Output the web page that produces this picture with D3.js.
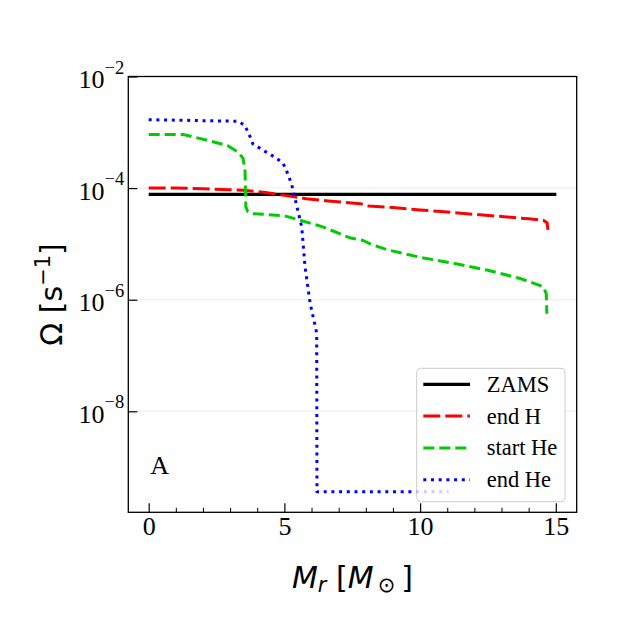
<!DOCTYPE html>
<html>
<head>
<meta charset="utf-8">
<script src="https://cdn.jsdelivr.net/npm/d3@7"></script>
<style>
  body { margin: 0; background: #fff; }
  svg { display: block; }
</style>
</head>
<body>
<div id="chart"></div>
<script>
// ---- data ----
// enclosed mass M_r (Msun) and angular velocity Omega (1/s)
const zamsMass = [0, 3, 6, 9, 12, 15.02];
const zamsOmega = [7.7e-5, 7.7e-5, 7.7e-5, 7.7e-5, 7.7e-5, 7.7e-5];

const endHMass = [0, 1, 2, 3, 3.5, 4.3, 5, 5.8, 6.6, 7.8, 8.1, 9, 10, 11, 12, 13, 14, 14.55, 14.68, 14.71];
const endHOmega = [1.0e-4, 1.0e-4, 9.77e-5, 9.33e-5, 9.12e-5, 8.32e-5, 7.41e-5, 6.46e-5, 5.89e-5, 5.25e-5,
  4.79e-5, 4.47e-5, 4.07e-5, 3.72e-5, 3.39e-5, 3.09e-5, 2.82e-5, 2.63e-5, 2.4e-5, 1.78e-5];

const startHeMass = [0, 1.3, 2.3, 2.9, 3.3, 3.48, 3.55, 3.58, 3.65, 3.78, 5.0, 6.3, 6.6, 7.4, 7.9, 8.16, 8.77,
  10.0, 11.23, 12.46, 13.69, 14.55, 14.65, 14.67];
const startHeOmega = [9.1e-4, 9.1e-4, 6.9e-4, 5.8e-4, 4.4e-4, 3.4e-4, 2.0e-4, 4.6e-5, 3.8e-5, 3.5e-5, 3.2e-5,
  2.1e-5, 1.86e-5, 1.29e-5, 1.15e-5, 1.0e-5, 7.9e-6, 5.75e-6, 4.5e-6, 3.4e-6, 2.4e-6, 1.7e-6, 1.26e-6, 5.6e-7];

const endHeMass = [0, 3.29, 3.54, 3.72, 3.84, 4.27, 4.64, 4.95, 5.07, 5.26, 5.38, 5.64, 5.76, 5.95, 6.13, 6.19,
  6.2, 6.25, 11.05];
const endHeOmega = [1.68e-3, 1.58e-3, 1.33e-3, 8.7e-4, 6.2e-4, 4.6e-4, 3.6e-4, 2.8e-4, 2.1e-4, 1.2e-4, 6.9e-5,
  2.0e-5, 3.9e-6, 8.5e-7, 3.5e-7, 2.5e-7, 3.6e-10, 3.6e-10, 3.6e-10];

const seriesNames = ["ZAMS", "end H", "start He", "end He"];
const seriesColors = ["#000000", "#ff0000", "#00cc00", "#0000ff"];
const seriesDash = [null, "17,5", "11,5", "3,4.7"];

const xTicks = [0, 5, 10, 15];
const xMinorTicks = [1, 2, 3, 4, 6, 7, 8, 9, 11, 12, 13, 14];
const yTicks = [1e-8, 1e-6, 1e-4, 1e-2];
const yTickExp = ["\u22128", "\u22126", "\u22124", "\u22122"];

// ---- layout ----
let width = 640, height = 640;
let margin = { left: 128.3, right: 640 - 576.7, top: 76.5, bottom: 640 - 512.3 };
let plotW = width - margin.left - margin.right;
let plotH = height - margin.top - margin.bottom;

let svg = d3.select("#chart").append("svg")
  .attr("width", width)
  .attr("height", height);

svg.append("rect").attr("width", width).attr("height", height).attr("fill", "#fff");

let g = svg.append("g")
  .attr("transform", "translate(" + margin.left + "," + margin.top + ")");

let x = d3.scaleLinear().domain([-0.751, 15.77]).range([0, plotW]);
let y = d3.scaleLog().domain([Math.pow(10, -9.81), 1e-2]).range([plotH, 0]);

g.append("clipPath").attr("id", "plotclip")
  .append("rect").attr("width", plotW).attr("height", plotH);

// faint horizontal grid at the major decades
g.selectAll("line.grid")
  .data(yTicks)
  .enter().append("line")
  .attr("class", "grid")
  .attr("x1", 0).attr("x2", plotW)
  .attr("y1", d => y(d)).attr("y2", d => y(d))
  .attr("stroke", "#f2f2f2")
  .attr("stroke-width", 1.5);

// ---- curves ----
let line = d3.line()
  .x(d => x(d[0]))
  .y(d => y(d[1]));

let curves = [
  d3.zip(zamsMass, zamsOmega),
  d3.zip(endHMass, endHOmega),
  d3.zip(startHeMass, startHeOmega),
  d3.zip(endHeMass, endHeOmega)
];

let curveG = g.append("g").attr("clip-path", "url(#plotclip)");
curves.forEach(function (pts, i) {
  curveG.append("path")
    .datum(pts)
    .attr("d", line)
    .attr("fill", "none")
    .attr("stroke", seriesColors[i])
    .attr("stroke-width", i === 0 ? 3.3 : 3)
    .attr("stroke-dasharray", seriesDash[i])
    .attr("stroke-linejoin", "round");
});

// ---- axes ----
let tickFont = "'Liberation Serif', 'Times New Roman', serif";

let xAxis = g.append("g")
  .attr("transform", "translate(0," + plotH + ")")
  .call(d3.axisBottom(x).tickValues(xTicks).tickSize(-9).tickPadding(4).tickFormat(d3.format("d")));
xAxis.select(".domain").remove();
xAxis.selectAll("text").attr("font-family", tickFont).attr("font-size", 26).attr("fill", "#000");
xAxis.selectAll("line").attr("stroke-width", 1.2);

g.append("g")
  .attr("transform", "translate(0," + plotH + ")")
  .call(d3.axisBottom(x).tickValues(xMinorTicks).tickSize(-4.5).tickFormat(""))
  .call(a => a.select(".domain").remove())
  .selectAll("line").attr("stroke-width", 1);

let yAxis = g.append("g")
  .call(d3.axisLeft(y).tickValues(yTicks).tickSize(-9).tickFormat(""));
yAxis.select(".domain").remove();
yAxis.selectAll("line").attr("stroke-width", 1.2);

// y tick labels as 10 with a superscript exponent
let yLab = g.selectAll("text.ylab")
  .data(yTicks)
  .enter().append("text")
  .attr("class", "ylab")
  .attr("text-anchor", "end")
  .attr("font-family", tickFont)
  .attr("x", -4)
  .attr("y", d => y(d) + 11.5);
yLab.append("tspan").attr("font-size", 26).text("10");
yLab.append("tspan").attr("font-size", 18.5).attr("dy", -14.5).text((d, i) => yTickExp[i]);

// frame
g.append("rect")
  .attr("width", plotW).attr("height", plotH)
  .attr("fill", "none").attr("stroke", "#000").attr("stroke-width", 1.3);

// panel letter
g.append("text")
  .attr("x", x(0.06)).attr("y", 473.5 - margin.top)
  .attr("font-family", tickFont).attr("font-size", 26)
  .text("A");

// ---- legend ----
let legend = svg.append("g").attr("transform", "translate(416.7,368.3)");
legend.append("rect")
  .attr("width", 148.3).attr("height", 133.4)
  .attr("rx", 4)
  .attr("fill", "#fff").attr("fill-opacity", 0.8)
  .attr("stroke", "#cccccc").attr("stroke-width", 1);

let entry = legend.selectAll("g.entry")
  .data(seriesNames)
  .enter().append("g")
  .attr("class", "entry")
  .attr("transform", (d, i) => "translate(0," + (16 + i * 31.8) + ")");
entry.append("line")
  .attr("x1", 6.6).attr("x2", 53.3)
  .attr("stroke", (d, i) => seriesColors[i])
  .attr("stroke-width", (d, i) => i === 0 ? 3.3 : 3)
  .attr("stroke-dasharray", (d, i) => seriesDash[i]);
entry.append("text")
  .attr("x", 70)
  .attr("y", 7.5)
  .attr("font-family", tickFont).attr("font-size", 22.5)
  .text(d => d);

// ---- axis labels (mathtext look) ----
let mathFont = "'DejaVu Sans', sans-serif";

let xl = svg.append("text")
  .attr("x", margin.left + plotW / 2).attr("y", 588)
  .attr("text-anchor", "middle")
  .attr("font-family", mathFont).attr("font-size", 30);
xl.append("tspan").attr("font-style", "italic").text("M");
xl.append("tspan").attr("font-style", "italic").attr("font-size", 21).attr("dy", 4).text("r");
xl.append("tspan").attr("dy", -4).text("\u00a0[");
xl.append("tspan").attr("font-style", "italic").text("M");
xl.append("tspan").attr("font-size", 21).attr("dy", 4).text("\u2009\u2299");
xl.append("tspan").attr("dy", -4).text("\u2009]");

let yl = svg.append("text")
  .attr("transform", "translate(62," + (margin.top + plotH / 2) + ") rotate(-90)")
  .attr("text-anchor", "middle")
  .attr("font-family", mathFont).attr("font-size", 30);
yl.append("tspan").text("\u03a9 [s");
yl.append("tspan").attr("font-size", 21).attr("dy", -12).text("\u22121");
yl.append("tspan").attr("dy", 12).text("]");
</script>
</body>
</html>
